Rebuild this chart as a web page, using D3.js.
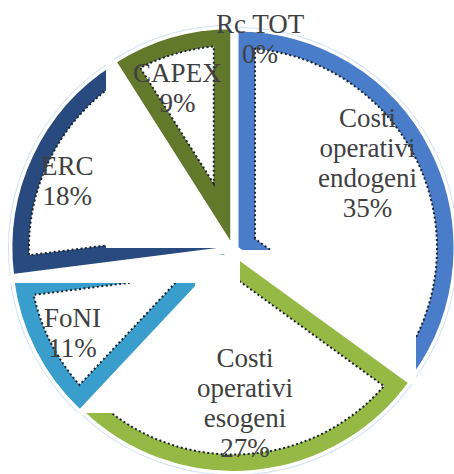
<!DOCTYPE html>
<html><head><meta charset="utf-8">
<script src="https://cdn.jsdelivr.net/npm/d3@7"></script>
<style>body{margin:0;background:#fff}svg{display:block}</style>
</head><body><svg id="c" width="454" height="474"></svg>
<script>
// ---- data ----
const categories = ["Costi operativi endogeni", "Costi operativi esogeni", "FoNI", "ERC", "CAPEX", "Rc TOT"];
const labelLines = [["Costi", "operativi", "endogeni"], ["Costi", "operativi", "esogeni"], ["FoNI"], ["ERC"], ["CAPEX"], ["Rc TOT"]];
const values = [35, 27, 11, 18, 9, 0];
const percentLabels = ["35%", "27%", "11%", "18%", "9%", "0%"];
const colors = ["#4a7dc9", "#95b944", "#3a9ecd", "#284a7e", "#62782b", "#7f7f7f"];

// ---- layout ----
const W = 454, H = 474;
const cx = 233, cy = 250, R = 218, band = 18, explode = 4.5;
const labelR = 160;
const labelNudge = [[-8, -14], [-3, -6], [-18, 11], [-21, 0], [-11, -8], [27, -51]];
const lineH = 30, fontSize = 27;

const svg = d3.select("#c");

const pie = d3.pie().sort(null).value(d => d);
const arcs = pie(values);
const arcGen = d3.arc().innerRadius(0).outerRadius(R);
const ringGen = d3.arc().innerRadius(R + 2).outerRadius(R + 3);

function insetPath(a0, a1) {
  const th = a1 - a0;
  const rho = R - band;
  const dl = Math.asin(band / rho);
  const mid = (a0 + a1) / 2;
  const ra = band / Math.sin(th / 2);
  const p = d3.path();
  p.moveTo(ra * Math.sin(mid), -ra * Math.cos(mid));
  const s0 = a0 + dl, s1 = a1 - dl;
  p.lineTo(rho * Math.sin(s0), -rho * Math.cos(s0));
  p.arc(0, 0, rho, s0 - Math.PI / 2, s1 - Math.PI / 2, false);
  p.closePath();
  return p.toString();
}

// white "label boxes" that in the reference hide parts of some slices
// (absolute px, drawn right after the slice index given)
const whiteBoxes = {
  0: [[232, 250, 184, 130]],
  1: [[60, 250, 172, 163]],
  2: [[5, 255, 235, 28], [195, 283, 37, 27]],
  3: [[106, 40, 126, 208]]
};

arcs.forEach((a, i) => {
  if (a.value <= 0) return;
  const mid = (a.startAngle + a.endAngle) / 2;
  const ox = explode * Math.sin(mid), oy = -explode * Math.cos(mid);
  const sg = svg.append("g").attr("transform", `translate(${cx + ox},${cy + oy})`);
  sg.append("path").attr("d", ringGen(a)).attr("fill", "#cfe2f3");
  sg.append("path").attr("d", arcGen(a)).attr("fill", colors[i])
    .attr("stroke", "#fff").attr("stroke-width", 3).attr("stroke-linejoin", "miter");
  sg.append("path").attr("d", insetPath(a.startAngle, a.endAngle))
    .attr("fill", "#fff").attr("stroke", "#1c2330").attr("stroke-width", 2)
    .attr("stroke-dasharray", "2 2.5");
  (whiteBoxes[i] || []).forEach(b => {
    svg.append("rect").attr("x", b[0]).attr("y", b[1]).attr("width", b[2]).attr("height", b[3]).attr("fill", "#fff");
  });
});

// labels
const lg = svg.append("g").attr("transform", `translate(${cx},${cy})`);
arcs.forEach((a, i) => {
  const mid = (a.startAngle + a.endAngle) / 2;
  const x = labelR * Math.sin(mid) + labelNudge[i][0];
  const y = -labelR * Math.cos(mid) + labelNudge[i][1];
  const lines = labelLines[i].concat([percentLabels[i]]);
  const n = lines.length;
  const b0 = y - lineH * (n - 1) / 2 + 8.5;
  const t = lg.append("text").attr("text-anchor", "middle")
    .attr("font-family", "'Liberation Serif','Times New Roman',serif")
    .attr("font-size", fontSize).attr("fill", "#404040");
  lines.forEach((l, k) => t.append("tspan").attr("x", x).attr("y", b0 + k * lineH).text(l));
});
</script>
</body></html>
